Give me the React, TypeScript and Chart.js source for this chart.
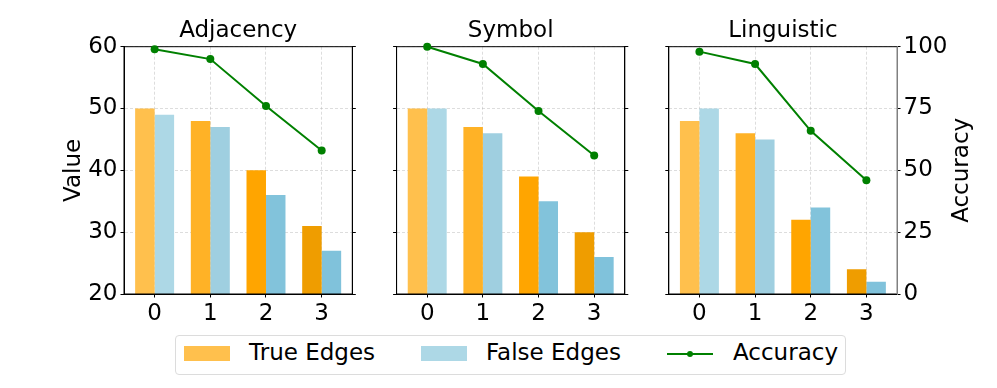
import React, { useEffect, useRef } from "react";
import { Chart, registerables } from "chart.js";

Chart.register(...registerables);

// ---------------- data ----------------
const categories = [0, 1, 2, 3];
const panelTitles = ["Adjacency", "Symbol", "Linguistic"];

const adjacencyTrue = [50, 48, 40, 31];
const adjacencyFalse = [49, 47, 36, 27];
const adjacencyAccuracy = [99, 95, 76, 58];

const symbolTrue = [50, 47, 39, 30];
const symbolFalse = [50, 46, 35, 26];
const symbolAccuracy = [100, 93, 74, 56];

const linguisticTrue = [48, 46, 32, 24];
const linguisticFalse = [50, 45, 34, 22];
const linguisticAccuracy = [98, 93, 66, 46];

const valueTicks = [20, 30, 40, 50, 60];
const accuracyTicks = [0, 25, 50, 75, 100];

const legendLabels = ["True Edges", "False Edges", "Accuracy"];
const yLabelLeft = "Value";
const yLabelRight = "Accuracy";

// ---------------- styles ----------------
const FONT = "'DejaVu Sans', sans-serif";
const FS = 23;
const trueColors = ["#FFC04D", "#FFB226", "#FFA500", "#EF9D00"];
const falseColors = ["#ADD8E6", "#9FCFE0", "#82C3DB", "#80C2DB"];
const lineColor = "#008000";
const gridColor = "rgba(176,176,176,0.55)";

const panelTrue = [adjacencyTrue, symbolTrue, linguisticTrue];
const panelFalse = [adjacencyFalse, symbolFalse, linguisticFalse];
const panelAcc = [adjacencyAccuracy, symbolAccuracy, linguisticAccuracy];

// canvas layout per panel: left, width, left-axis width, right-axis width
const CANVAS_H = 330;
const XAXIS_H = 36;
const layouts = [
  { left: 0, width: 380, leftW: 124, rightW: 27.7 },
  { left: 370, width: 280, leftW: 26.6, rightW: 25.2 },
  { left: 640, width: 357, leftW: 28.8, rightW: 100 },
];

function framePlugin(rightColor: string) {
  return {
    id: "frame",
    beforeDatasetDraw(chart: any, args: any) {
      if (args.index !== 0) return;
      const { ctx, chartArea: a } = chart;
      ctx.save();
      ctx.lineWidth = 1;
      ctx.strokeStyle = "#000";
      ctx.beginPath();
      ctx.moveTo(a.right, a.top);
      ctx.lineTo(a.left, a.top);
      ctx.lineTo(a.left, a.bottom);
      ctx.lineTo(a.right, a.bottom);
      ctx.stroke();
      ctx.strokeStyle = rightColor;
      ctx.beginPath();
      ctx.moveTo(a.right, a.top);
      ctx.lineTo(a.right, a.bottom);
      ctx.stroke();
      ctx.restore();
    },
  };
}

const rightTitlePlugin = {
  id: "rightTitle",
  afterDraw(chart: any) {
    const { ctx, chartArea: a } = chart;
    ctx.save();
    ctx.font = `${FS}px ${FONT}`;
    ctx.fillStyle = "#000";
    ctx.textAlign = "center";
    ctx.textBaseline = "alphabetic";
    ctx.translate(a.right + 71, (a.top + a.bottom) / 2);
    ctx.rotate(-Math.PI / 2);
    ctx.fillText(yLabelRight, 0, 0);
    ctx.restore();
  },
};

function makeConfig(i: number): any {
  const lay = layouts[i];
  const tickFont = { family: FONT, size: FS };
  const first = i === 0;
  const last = i === 2;
  return {
    type: "bar",
    data: {
      datasets: [
        {
          type: "line",
          label: legendLabels[2],
          data: categories.map((c, k) => ({ x: c, y: panelAcc[i][k] })),
          yAxisID: "y1",
          borderColor: lineColor,
          backgroundColor: lineColor,
          borderWidth: 2,
          pointRadius: 4,
          pointBorderWidth: 0,
          pointBackgroundColor: lineColor,
          tension: 0,
          clip: false,
        },
        {
          label: legendLabels[0],
          data: categories.map((c, k) => ({ x: c, y: panelTrue[i][k] })),
          backgroundColor: trueColors,
          borderWidth: 0,
          yAxisID: "y",
        },
        {
          label: legendLabels[1],
          data: categories.map((c, k) => ({ x: c, y: panelFalse[i][k] })),
          backgroundColor: falseColors,
          borderWidth: 0,
          yAxisID: "y",
        },
      ],
    },
    options: {
      responsive: false,
      animation: false,
      devicePixelRatio: 1,
      layout: { padding: 0 },
      datasets: { bar: { categoryPercentage: 0.7, barPercentage: 1.0 } },
      plugins: {
        legend: { display: false },
        tooltip: { enabled: false },
        title: {
          display: true,
          text: panelTitles[i],
          color: "#000",
          font: { family: FONT, size: FS, weight: "normal", lineHeight: 1.2 },
          padding: { top: 17.2, bottom: 1.9 },
          fullSize: false,
        },
      },
      scales: {
        x: {
          type: "linear",
          min: -0.55,
          max: 3.55,
          offset: false,
          ticks: {
            stepSize: 1,
            includeBounds: false,
            font: tickFont,
            color: "#000",
            padding: 3,
            maxRotation: 0,
          },
          grid: {
            offset: false,
            color: gridColor,
            lineWidth: 0.8,
            tickColor: "#000",
            tickLength: 3.5,
            tickWidth: 1,
          },
          border: { display: true, color: "#000", width: 1, dash: [3, 2] },
          afterFit: (s: any) => {
            s.height = XAXIS_H;
          },
        },
        y: {
          type: "linear",
          position: "left",
          min: valueTicks[0],
          max: valueTicks[valueTicks.length - 1],
          ticks: {
            stepSize: valueTicks[1] - valueTicks[0],
            display: first,
            font: tickFont,
            color: "#000",
            padding: 3,
          },
          grid: {
            color: gridColor,
            lineWidth: 0.8,
            tickColor: "#000",
            tickLength: 3.5,
            tickWidth: 1,
          },
          border: { display: true, color: "#000", width: 1, dash: [3, 2] },
          title: {
            display: first,
            text: yLabelLeft,
            color: "#000",
            font: { family: FONT, size: FS, lineHeight: 1.2 },
            padding: { top: 60.3, bottom: 0 },
          },
          afterFit: (s: any) => {
            s.width = lay.leftW;
          },
        },
        y1: {
          type: "linear",
          position: "right",
          min: accuracyTicks[0],
          max: accuracyTicks[accuracyTicks.length - 1],
          ticks: {
            stepSize: accuracyTicks[1] - accuracyTicks[0],
            display: last,
            font: tickFont,
            color: "#000",
            padding: 3,
          },
          grid: {
            drawOnChartArea: false,
            tickColor: "#000",
            tickLength: 3.5,
            tickWidth: 1,
          },
          border: { display: true, color: last ? "#808080" : "#000", width: 1 },
          afterFit: (s: any) => {
            s.width = lay.rightW;
          },
        },
      },
    },
    plugins: last
      ? [framePlugin("#808080"), rightTitlePlugin]
      : [framePlugin("#000")],
  };
}

function Panel({ i }: { i: number }) {
  const ref = useRef<HTMLCanvasElement | null>(null);
  useEffect(() => {
    if (!ref.current) return;
    const chart = new Chart(ref.current, makeConfig(i));
    return () => chart.destroy();
  }, [i]);
  const lay = layouts[i];
  return (
    <canvas
      ref={ref}
      width={lay.width}
      height={CANVAS_H}
      style={{
        position: "absolute",
        left: lay.left,
        top: 0,
        width: lay.width,
        height: CANVAS_H,
      }}
    />
  );
}

const textStyle: React.CSSProperties = {
  position: "absolute",
  fontFamily: FONT,
  fontSize: FS,
  lineHeight: `${FS}px`,
  color: "#000",
  whiteSpace: "nowrap",
};

export default function App() {
  return (
    <div
      style={{
        position: "absolute",
        left: 0,
        top: 0,
        width: 997,
        height: 388,
        background: "#fff",
        overflow: "hidden",
      }}
    >
      <Panel i={0} />
      <Panel i={1} />
      <Panel i={2} />
      <div
        style={{
          position: "absolute",
          left: 175,
          top: 335,
          width: 671,
          height: 40,
          border: "1px solid #dcdcdc",
          borderRadius: 4,
          boxSizing: "border-box",
        }}
      />
      <div
        style={{
          position: "absolute",
          left: 184,
          top: 346,
          width: 46,
          height: 15,
          background: trueColors[0],
        }}
      />
      <div style={{ ...textStyle, left: 249, top: 341.3 }}>{legendLabels[0]}</div>
      <div
        style={{
          position: "absolute",
          left: 421,
          top: 346,
          width: 46,
          height: 15,
          background: falseColors[0],
        }}
      />
      <div style={{ ...textStyle, left: 486, top: 341.3 }}>{legendLabels[1]}</div>
      <div
        style={{
          position: "absolute",
          left: 667,
          top: 352.5,
          width: 46,
          height: 2,
          background: lineColor,
        }}
      />
      <div
        style={{
          position: "absolute",
          left: 687,
          top: 350.5,
          width: 6,
          height: 6,
          borderRadius: "50%",
          background: lineColor,
        }}
      />
      <div style={{ ...textStyle, left: 733, top: 341.3 }}>{legendLabels[2]}</div>
    </div>
  );
}
